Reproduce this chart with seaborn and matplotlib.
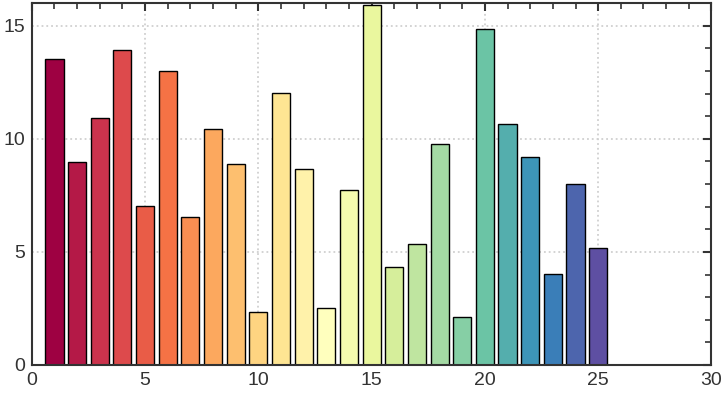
import numpy as np
import pandas as pd
import matplotlib
matplotlib.use("Agg")
import matplotlib.pyplot as plt
import seaborn as sns
from matplotlib.ticker import MultipleLocator

# 数据
positions = list(range(1, 26))
values = [13.54, 8.98, 10.93, 13.94, 7.04, 13.0, 6.55, 10.44, 8.89, 2.35,
          12.04, 8.67, 2.52, 7.74, 15.93, 4.34, 5.35, 9.78, 2.12, 14.87,
          10.66, 9.20, 4.03, 8.01, 5.18]

sns.set_style("white")
plt.rcParams['font.family'] = ['Liberation Sans', 'DejaVu Sans']

df = pd.DataFrame({"x": positions, "y": values})
colors = [plt.cm.Spectral(t) for t in np.linspace(0, 1, len(positions))]

fig, ax = plt.subplots(figsize=(7.23, 3.98), dpi=100)
sns.barplot(data=df, x="x", y="y", hue="x", palette=colors, native_scale=True,
            width=0.8, saturation=1, edgecolor="black", linewidth=1,
            legend=False, ax=ax)

ax.set_xlim(0, 30)
ax.set_ylim(0, 16)
ax.xaxis.set_major_locator(MultipleLocator(5))
ax.yaxis.set_major_locator(MultipleLocator(5))
ax.xaxis.set_minor_locator(MultipleLocator(1))
ax.yaxis.set_minor_locator(MultipleLocator(1))
ax.tick_params(which="both", direction="in", top=True, right=True,
               color="#333333", labelsize=14, labelcolor="#333333")
ax.tick_params(which="major", length=6, width=1.5, pad=5)
ax.tick_params(which="minor", length=4, width=1.2)
ax.grid(True, which="major", linestyle=":", color="#d0d0d0", linewidth=1.3)
ax.set_axisbelow(True)
for s in ax.spines.values():
    s.set_color("#333333")
    s.set_linewidth(1.5)
ax.set_xlabel("")
ax.set_ylabel("")

fig.subplots_adjust(left=0.044, right=0.984, top=0.992, bottom=0.083)
fig.savefig("out.png", dpi=100)
